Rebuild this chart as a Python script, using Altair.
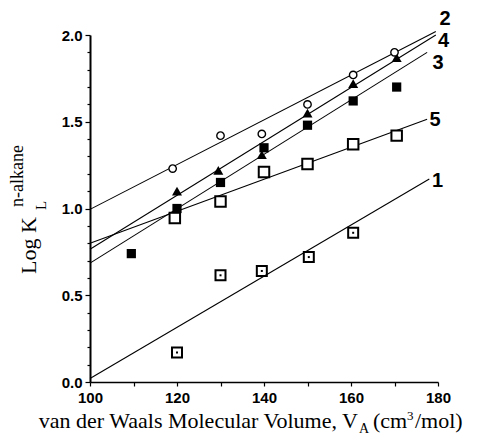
import altair as alt
import pandas as pd

# ---- data ----
s1_x = [120, 130, 139.5, 150.3, 160.5]          # series 1: open squares with centre dot
s1_y = [0.17, 0.615, 0.64, 0.72, 0.86]
s2_x = [119, 130, 139.5, 150, 160.5, 170]       # series 2: open circles
s2_y = [1.23, 1.42, 1.43, 1.60, 1.77, 1.90]
s3_x = [109.5, 120, 130, 140, 150, 160.5, 170.5]  # series 3: filled squares
s3_y = [0.74, 1.00, 1.15, 1.35, 1.48, 1.62, 1.70]
s4_x = [120, 129.5, 139.5, 150, 160.5, 170.5]   # series 4: filled triangles
s4_y = [1.10, 1.22, 1.31, 1.55, 1.72, 1.87]
s5_x = [119.5, 130, 140, 150, 160.5, 170.5]     # series 5: open squares
s5_y = [0.945, 1.04, 1.21, 1.256, 1.37, 1.42]

line_names = ["1", "2", "3", "4", "5"]
line_x0 = [100, 100, 100, 100, 100]
line_y0 = [0.02, 0.995, 0.685, 0.765, 0.80]
line_x1 = [178, 179.5, 177.5, 179.5, 177.5]
line_y1 = [1.17, 2.02, 1.90, 2.00, 1.515]
label_x = [179.9, 181.6, 180.0, 181.3, 179.3]
label_y = [1.16, 2.09, 1.84, 1.965, 1.51]

x_ticks = [100, 110, 120, 130, 140, 150, 160, 170, 180]
y_ticks = [round(i * 0.1, 1) for i in range(21)]

x_title_main = "van der Waals Molecular Volume, V"
x_title_sub = "A"
x_title_rest1 = "(cm"
x_title_sup = "3"
x_title_rest2 = "/mol)"
y_title_main = "Log K"
y_title_sub = "L"
y_title_sup = "n-alkane"

W, H = 348, 347
PAD_L, PAD_T = 90, 35

major = "abs(datum.value*2-round(datum.value*2))<0.001"

x_axis = alt.Axis(values=x_ticks, labelExpr="datum.value % 20 == 0 ? datum.label : ''",
                  format="d", title=None, grid=False, tickSize=4, tickColor="black",
                  tickWidth=1.2, domainColor="black", domainWidth=1.6,
                  labelFont="Liberation Sans", labelFontWeight="bold", labelFontSize=15,
                  labelColor="black", labelPadding=4, labelFlush=False)
y_axis = alt.Axis(values=y_ticks, labelExpr=major + " ? format(datum.value, '.1f') : ''",
                  title=None, grid=False,
                  tickSize={"condition": {"test": major, "value": 5}, "value": 3},
                  tickColor="black", tickWidth=1.2, domainColor="black", domainWidth=2,
                  labelFont="Liberation Sans", labelFontWeight="bold", labelFontSize=15,
                  labelColor="black", labelPadding=3, labelFlush=False)
xs = alt.Scale(domain=[100, 180], nice=False)
ys = alt.Scale(domain=[0, 2], nice=False)


def X(f="x"):
    return alt.X(f, type="quantitative", scale=xs, axis=x_axis)


def Y(f="y"):
    return alt.Y(f, type="quantitative", scale=ys, axis=y_axis)


rows = []
for n, a, b, c, d in zip(line_names, line_x0, line_y0, line_x1, line_y1):
    rows.append({"s": n, "x": a, "y": b, "o": 0})
    rows.append({"s": n, "x": c, "y": d, "o": 1})
lines = alt.Chart(pd.DataFrame(rows)).mark_line(color="black", strokeWidth=1.1).encode(
    x=X(), y=Y(), detail="s:N", order="o:Q")

lab = alt.Chart(pd.DataFrame({"x": label_x, "y": label_y, "t": line_names})).mark_text(
    font="Liberation Sans", fontWeight="bold", fontSize=20, color="black",
    align="center", baseline="middle").encode(x=X(), y=Y(), text="t:N")


def pts(xv, yv):
    return pd.DataFrame({"x": xv, "y": yv})


p1 = alt.Chart(pts(s1_x, s1_y)).mark_point(shape="square", size=100, filled=False,
                                           color="black", strokeWidth=2, opacity=1).encode(x=X(), y=Y())
p1d = alt.Chart(pts(s1_x, s1_y)).mark_point(shape="square", size=4, filled=True,
                                            color="black", opacity=1).encode(x=X(), y=Y())
p2 = alt.Chart(pts(s2_x, s2_y)).mark_point(shape="circle", size=55, filled=True, fill="white",
                                           stroke="black", strokeWidth=1.4, opacity=1).encode(x=X(), y=Y())
p3 = alt.Chart(pts(s3_x, s3_y)).mark_point(shape="square", size=85, filled=True,
                                           color="black", opacity=1).encode(x=X(), y=Y())
p4 = alt.Chart(pts(s4_x, s4_y)).mark_point(shape="triangle-up", size=100, filled=True,
                                           color="black", opacity=1).encode(x=X(), y=Y())
p5 = alt.Chart(pts(s5_x, s5_y)).mark_point(shape="square", size=110, filled=True, fill="white",
                                           stroke="black", strokeWidth=2, opacity=1).encode(x=X(), y=Y())


def txt(s, ax, ay, size, align="left", angle=0):
    kw = dict(font="Liberation Serif", fontSize=size, color="black", align=align,
              baseline="alphabetic")
    if angle:
        kw["angle"] = angle
    return alt.Chart(pd.DataFrame({"t": [s]})).mark_text(**kw).encode(
        x=alt.value(ax - PAD_L), y=alt.value(ay - PAD_T), text="t:N")


titles = [
    txt(x_title_main, 358, 428, 22, align="right"),
    txt(x_title_sub, 359, 433, 14),
    txt(x_title_rest1, 373, 428, 22),
    txt(x_title_sup, 407, 420, 13),
    txt(x_title_rest2, 415, 428, 22),
    txt(y_title_main, 36, 274, 22, angle=270),
    txt(y_title_sub, 46, 210, 15, angle=270),
    txt(y_title_sup, 23, 207, 18, angle=270),
]

chart = alt.layer(lines, p5, p3, p4, p2, p1, p1d, lab, *titles).properties(
    width=W, height=H,
    padding={"left": PAD_L, "top": PAD_T, "right": 484 - PAD_L - W, "bottom": 436 - PAD_T - H},
    autosize=alt.AutoSizeParams(type="none"),
    background="white",
).configure_view(strokeWidth=0)

chart.save("out.html", embed_options={"renderer": "svg", "actions": False})
